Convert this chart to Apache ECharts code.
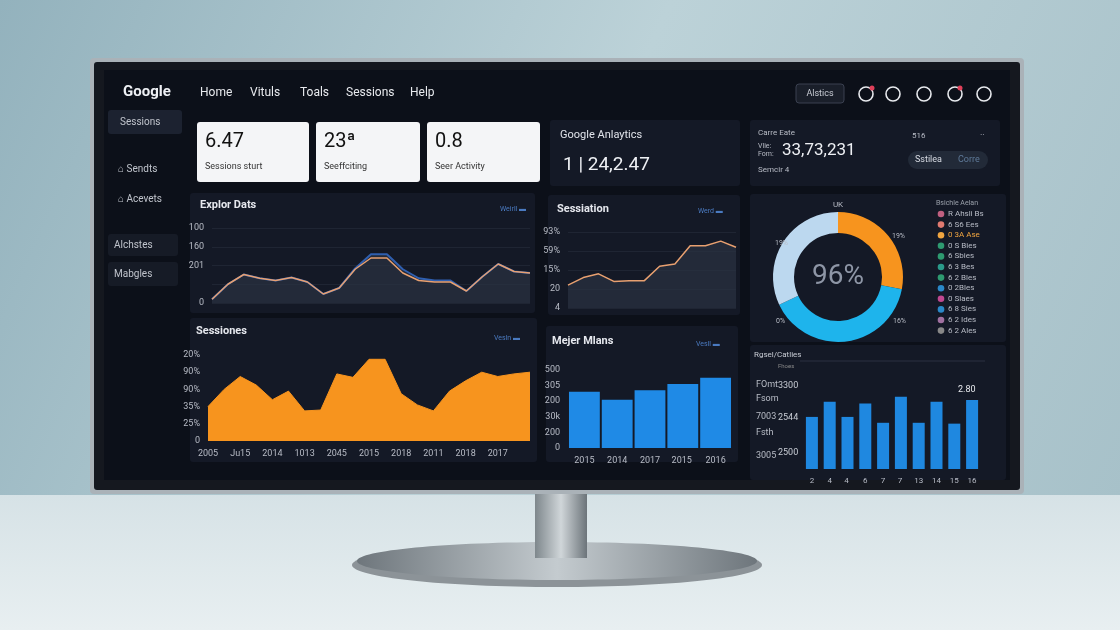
<!DOCTYPE html>
<html><head><meta charset="utf-8">
<script src="https://cdn.jsdelivr.net/npm/echarts@6/dist/echarts.min.js"></script>
<style>html,body{margin:0;padding:0;background:#b9cfd6}#c{width:1120px;height:630px}</style>
</head><body><div id="c"></div>
<script>
const exploreX = ['1','2','3','4','5','6','7','8','9','10','11','12','13','14','15','16','17','18','19','20','21'];
const exploreOrange = [5,25,38,33,30,34,28,12,20,45,60,60,40,30,28,28,16,35,52,42,40];
const exploreBlue = [5,25,38,33,30,34,28,12,20,46,65,65,45,33,30,30,16,35,52,42,40];
const sessX = ['1','2','3','4','5','6','7','8','9','10','11','12'];
const sessValues = [30,40,45,35,36,36,55,58,82,82,88,80];
const sessionesX = ['2005','a','Ju15','b','2014','c','1013','d','2045','e','2015','f','2018','g','2011','h','2018','i','2017','j','k'];
const sessionesValues = [40,60,75,65,48,58,35,36,78,74,95,95,55,42,35,58,70,80,75,78,80];
const mejerX = ['2015','2014','2017','2015 ','2016'];
const mejerValues = [360,310,370,410,450];
const pagesX = ['2','4','4 ','6','7','7 ','13','14','15','16'];
const pagesValues = [62,80,62,78,55,86,55,80,54,82];
const donutNames = ['Orange','Cyan','Light'];
const donutValues = [28,40,32];
const legendItems = [['#c06080','R Ahsli Bs'],['#e07a70','6 S6 Ees'],['#f0a540','0 3A Ase'],['#2e9a70','0 S Bies'],['#2e9a70','6 Sbies'],['#2a9a8a','6 3 Bes'],['#2e9a70','6 2 Bles'],['#2a88c8','0 2Bles'],['#c04890','0 Slaes'],['#2a88c8','6 8 Sies'],['#a070a0','6 2 Ides'],['#888','6 2 Ales']];

const ch = echarts.init(document.getElementById('c'));
const F = 'Roboto, Noto Sans, sans-serif';
const panel = (x,y,w,h,fill) => ({type:'rect',shape:{x,y,width:w,height:h,r:3},style:{fill:fill||'#141926'},z:-5});
const T = (x,y,text,size,fill,weight,align) => ({type:'text',x,y,style:{text,font:(weight||'normal')+' '+size+'px '+F,fill:fill||'#d8dce4',align:align||'left',verticalAlign:'middle'},z:5});
const axLab = {color:'#b8bcc6',fontSize:9,fontFamily:F};
const graphics = [
 {type:'rect',shape:{x:0,y:0,width:1120,height:500},style:{fill:new echarts.graphic.LinearGradient(0,0,1,1,[{offset:0,color:'#93b2bd'},{offset:0.5,color:'#bcd2d8'},{offset:1,color:'#a7c1c9'}])},z:-20},
 {type:'rect',shape:{x:0,y:495,width:1120,height:135},style:{fill:new echarts.graphic.LinearGradient(0,0,0,1,[{offset:0,color:'#d6e2e6'},{offset:1,color:'#e8eff1'}])},z:-20},
 {type:'ellipse',shape:{cx:557,cy:565,rx:205,ry:22},style:{fill:'#8c9398'},z:-19},
 {type:'ellipse',shape:{cx:557,cy:561,rx:200,ry:19},style:{fill:new echarts.graphic.LinearGradient(0,0,1,0,[{offset:0,color:'#6e767c'},{offset:0.5,color:'#c4cbcf'},{offset:1,color:'#6e767c'}])},z:-19},
 {type:'rect',shape:{x:535,y:488,width:52,height:70},style:{fill:new echarts.graphic.LinearGradient(0,0,1,0,[{offset:0,color:'#7e878c'},{offset:0.5,color:'#d0d6d9'},{offset:1,color:'#6c747a'}])},z:-19},
 {type:'rect',shape:{x:90,y:58,width:934,height:436,r:4},style:{fill:'#aab2b8'},z:-18},
 {type:'rect',shape:{x:94,y:62,width:926,height:428,r:3},style:{fill:'#15181f'},z:-17},
 {type:'rect',shape:{x:104,y:70,width:906,height:410},style:{fill:'#0c1019'},z:-16},
 T(123,92,'Google',15,'#eef0f4','bold'),
 T(200,93,'Home',12,'#e8eaee'),T(250,93,'Vituls',12,'#e8eaee'),T(300,93,'Toals',12,'#e8eaee'),T(346,93,'Sessions',12,'#e8eaee'),T(410,93,'Help',12,'#e8eaee'),
 {type:'rect',shape:{x:796,y:84,width:48,height:19,r:3},style:{fill:'#1a1f2a',stroke:'#3a4050'},z:2},
 T(820,94,'Alstics',9,'#c8ccd4','normal','center'),
 ...[866,893,924,955,984].map((x,i)=>({type:'circle',shape:{cx:x,cy:94,r:7},style:{fill:'none',stroke:'#e8eaee',lineWidth:1.6},z:3})),
 {type:'circle',shape:{cx:872,cy:88,r:2.5},style:{fill:'#e0405a'},z:4},{type:'circle',shape:{cx:960,cy:88,r:2.5},style:{fill:'#e0405a'},z:4},
 panel(108,110,74,24,'#1c2230'),T(120,122,'Sessions',10,'#c0c4cc'),
 T(118,169,'⌂ Sendts',10,'#c0c4cc'),T(118,199,'⌂ Acevets',10,'#c0c4cc'),
 panel(108,234,70,22,'#161b26'),T(114,245,'Alchstes',10,'#c0c4cc'),
 panel(108,262,70,24,'#161b26'),T(114,274,'Mabgles',10,'#c0c4cc'),
 panel(197,122,112,60,'#f4f5f7'),T(205,142,'6.47',20,'#111'),T(205,167,'Sessions sturt',9,'#333'),
 panel(316,122,104,60,'#f4f5f7'),T(324,142,'23ª',20,'#111'),T(324,167,'Seeffciting',9,'#333'),
 panel(427,122,113,60,'#f4f5f7'),T(435,142,'0.8',20,'#111'),T(435,167,'Seer Activity',9,'#333'),
 panel(550,120,190,66),T(560,135,'Google Anlaytics',11,'#e0e3ea'),T(563,165,'1 | 24,2.47',19,'#eef0f4'),
 panel(750,120,250,66),T(758,133,'Carre Eate',8,'#b8bcc6'),T(758,146,'Vlie:',7,'#b8bcc6'),T(758,154,'Fom:',7,'#b8bcc6'),
 T(782,151,'33,73,231',17,'#eef0f4'),T(758,170,'Semcir 4',8,'#b8bcc6'),T(912,136,'516',8,'#b8bcc6'),T(980,136,'··',9,'#b8bcc6'),
 {type:'rect',shape:{x:908,y:151,width:80,height:18,r:9},style:{fill:'#222a38'},z:2},T(915,160,'Sstilea',9,'#d8dce4'),T(958,160,'Corre',9,'#5f7a99'),
 panel(190,193,345,120),T(200,205,'Explor Dats',11,'#e6e8ee','bold'),T(500,209,'Weirll ▬',7,'#4a7ac0'),
 panel(548,195,192,120),T(557,209,'Sessiation',11,'#e6e8ee','bold'),T(698,211,'Werd ▬',7,'#4a7ac0'),
 panel(190,318,347,144),T(196,331,'Sessiones',11,'#e6e8ee','bold'),T(494,338,'Vesln ▬',7,'#4a7ac0'),
 panel(546,326,192,136),T(552,341,'Mejer Mlans',11,'#e6e8ee','bold'),T(696,344,'Vesll ▬',7,'#4a7ac0'),
 panel(750,194,256,148),
 T(838,205,'UK',8,'#b8bcc6','normal','center'),T(775,243,'19%',7,'#b8bcc6'),T(892,236,'19%',7,'#b8bcc6'),T(776,321,'0%',7,'#b8bcc6'),T(893,321,'16%',7,'#b8bcc6'),
 {type:'text',x:838,y:277,style:{text:'96%',font:'28px '+F,fill:'#8e96a6',align:'center',verticalAlign:'middle'},z:10},
 T(936,203,'Bsichle Aelan',7,'#9aa0aa'),
 ...legendItems.flatMap((it,i)=>[{type:'circle',shape:{cx:941,cy:214+i*10.6,r:3.3},style:{fill:it[0]},z:5},T(948,214+i*10.6,it[1],8,i==2?'#f0a540':'#b8bcc6')]),
 panel(750,345,256,135),T(754,355,'Rgsel/Catlies',8,'#c8ccd4'),T(778,366,'Fhoes',6,'#888'),
 {type:'line',shape:{x1:800,y1:361,x2:985,y2:361},style:{stroke:'#2a3040'},z:3},
 T(756,385,'FOmt',9,'#b8bcc6'),T(778,386,'3300',9,'#c8ccd4'),T(756,399,'Fsom',9,'#b8bcc6'),T(756,417,'7003',9,'#b8bcc6'),T(778,418,'2544',9,'#c8ccd4'),T(756,433,'Fsth',9,'#b8bcc6'),T(756,456,'3005',9,'#b8bcc6'),T(778,453,'2500',9,'#c8ccd4'),
 T(958,390,'2.80',9,'#e8eaee')
];
const yFmt = m => v => (m[v]!==undefined?m[v]:'');
ch.setOption({
 animation:false,
 graphic:graphics,
 grid:[
  {left:212,top:228,width:318,height:75},
  {left:568,top:232,width:168,height:76},
  {left:208,top:355,width:322,height:86},
  {left:568,top:370,width:164,height:78},
  {left:803,top:385,width:178,height:84}
 ],
 xAxis:[
  {gridIndex:0,type:'category',data:exploreX,boundaryGap:false,axisLine:{show:false},axisTick:{show:false},axisLabel:{show:false}},
  {gridIndex:1,type:'category',data:sessX,boundaryGap:false,axisLine:{show:false},axisTick:{show:false},axisLabel:{show:false}},
  {gridIndex:2,type:'category',data:sessionesX,boundaryGap:false,axisLine:{show:false},axisTick:{show:false},axisLabel:{...axLab,interval:0,formatter:v=>v.length>1?v:''}},
  {gridIndex:3,type:'category',data:mejerX,axisLine:{show:false},axisTick:{show:false},axisLabel:axLab},
  {gridIndex:4,type:'category',data:pagesX,axisLine:{show:false},axisTick:{show:false},axisLabel:{...axLab,fontSize:8}}
 ],
 yAxis:[
  {gridIndex:0,type:'value',min:0,max:100,interval:25,axisLabel:{...axLab,formatter:yFmt({0:'0',50:'201',75:'160',100:'100'})},splitLine:{lineStyle:{color:'#1f2533'}}},
  {gridIndex:1,type:'value',min:0,max:100,interval:25,axisLabel:{...axLab,formatter:yFmt({0:'4',25:'20',50:'15%',75:'59%',100:'93%'})},splitLine:{lineStyle:{color:'#1f2533'}}},
  {gridIndex:2,type:'value',min:0,max:100,interval:20,axisLabel:{...axLab,formatter:yFmt({0:'0',20:'25%',40:'35%',60:'90%',80:'90%',100:'20%'})},splitLine:{show:false}},
  {gridIndex:3,type:'value',min:0,max:500,interval:100,axisLabel:{...axLab,formatter:yFmt({0:'0',100:'200',200:'30k',300:'200',400:'305',500:'500'})},splitLine:{show:false}},
  {gridIndex:4,type:'value',min:0,max:100,axisLabel:{show:false},splitLine:{show:false}}
 ],
 series:[
  {type:'line',xAxisIndex:0,yAxisIndex:0,data:exploreBlue,symbol:'none',lineStyle:{color:'#2f5fb0',width:2},areaStyle:{color:'#2a3242'}},
  {type:'line',xAxisIndex:0,yAxisIndex:0,data:exploreOrange,symbol:'none',lineStyle:{color:'#e8a070',width:1.5}},
  {type:'line',xAxisIndex:1,yAxisIndex:1,data:sessValues,symbol:'none',lineStyle:{color:'#e8a070',width:1.5},areaStyle:{color:'#2a3242'}},
  {type:'line',xAxisIndex:2,yAxisIndex:2,data:sessionesValues,symbol:'none',lineStyle:{color:'#f7941e',width:1},areaStyle:{color:'#f7941e',opacity:1}},
  {type:'bar',xAxisIndex:3,yAxisIndex:3,data:mejerValues,barCategoryGap:'6%',itemStyle:{color:'#1f8ae6'}},
  {type:'bar',xAxisIndex:4,yAxisIndex:4,data:pagesValues,barWidth:12,itemStyle:{color:'#1f88e0'}},
  {type:'pie',center:[838,277],radius:[44,65],startAngle:90,clockwise:true,label:{show:false},labelLine:{show:false},
   data:donutNames.map((n,i)=>({name:n,value:donutValues[i],itemStyle:{color:['#f7941e','#1eb4ec','#bcd8ef'][i]}}))}
 ]
});
</script></body></html>
